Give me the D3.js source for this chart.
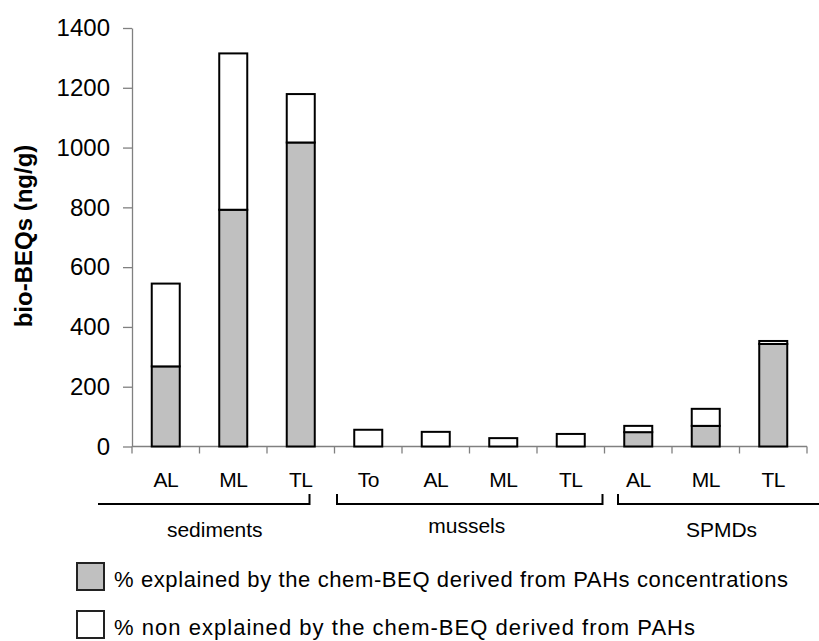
<!DOCTYPE html>
<html>
<head>
<meta charset="utf-8">
<script src="https://cdn.jsdelivr.net/npm/d3@7"></script>
<style>
  html, body { margin: 0; padding: 0; background: #fff; }
  svg { display: block; font-family: Arial, "Liberation Sans", sans-serif; }
</style>
</head>
<body>
<svg id="chart" width="819" height="641"></svg>
<script>
// ---- data ----
const categories = ["AL", "ML", "TL", "To", "AL", "ML", "TL", "AL", "ML", "TL"];
const groupNames = ["sediments", "mussels", "SPMDs"];
const groupSizes = [3, 4, 3];
const explained    = [268, 792, 1017, 0, 0, 0, 0, 48, 69, 343];
const nonExplained = [277, 523, 162, 56, 49, 28, 42, 21, 57, 10];
const yTicks = [0, 200, 400, 600, 800, 1000, 1200, 1400];
const yTitle = "bio-BEQs (ng/g)";
const legendLabels = [
  "% explained by the chem-BEQ derived from PAHs concentrations",
  "% non explained by the chem-BEQ derived from PAHs"
];
const seriesColors = ["#c0c0c0", "#ffffff"];

// ---- layout ----
const svg = d3.select("#chart");
const pLeft = 132, pRight = 807, pTop = 28, pBottom = 446.5;
const axisColor = "#808080";

const rows = categories.map((c, i) => ({ i, explained: explained[i], nonExplained: nonExplained[i] }));
const stacked = d3.stack().keys(["explained", "nonExplained"])(rows);

const x = d3.scaleBand().domain(d3.range(categories.length)).range([pLeft, pRight])
  .paddingInner(0.585).paddingOuter(0.2925);
const y = d3.scaleLinear().domain([0, 1400]).range([pBottom, pTop]);
const step = x.step();
const boundary = k => pLeft + k * step;

// y axis
const yAxis = d3.axisLeft(y).tickValues(yTicks).tickFormat(d3.format("d"))
  .tickSize(9).tickPadding(13).tickSizeOuter(0);
const gy = svg.append("g").attr("transform", `translate(${pLeft},0)`).call(yAxis)
  .attr("font-family", "Arial, 'Liberation Sans', sans-serif").attr("font-size", 24);
gy.select(".domain").attr("stroke", axisColor).attr("stroke-width", 1.3);
gy.selectAll(".tick line").attr("stroke", axisColor).attr("stroke-width", 1.3);
gy.selectAll(".tick text").attr("fill", "#000");
svg.append("line").attr("x1", pLeft).attr("x2", pLeft).attr("y1", pBottom).attr("y2", pBottom + 7)
  .attr("stroke", axisColor).attr("stroke-width", 1.3);

// x baseline + ticks at boundaries
svg.append("line").attr("x1", pLeft).attr("x2", pRight).attr("y1", pBottom).attr("y2", pBottom)
  .attr("stroke", axisColor).attr("stroke-width", 1.3);
svg.append("g").selectAll("line").data(d3.range(1, categories.length + 1)).join("line")
  .attr("x1", k => boundary(k)).attr("x2", k => boundary(k))
  .attr("y1", pBottom).attr("y2", pBottom + 7)
  .attr("stroke", axisColor).attr("stroke-width", 1.3);

// bars
svg.append("g").selectAll("g").data(stacked).join("g")
  .attr("fill", (d, si) => seriesColors[si])
  .selectAll("rect").data(d => d.filter(s => s[1] - s[0] > 0)).join("rect")
  .attr("x", s => x(s.data.i))
  .attr("width", x.bandwidth())
  .attr("y", s => y(s[1]))
  .attr("height", s => y(s[0]) - y(s[1]))
  .attr("stroke", "#000").attr("stroke-width", 2);

// category labels
svg.append("g").selectAll("text").data(categories).join("text")
  .attr("x", (c, i) => x(i) + x.bandwidth() / 2)
  .attr("y", 486.5)
  .attr("text-anchor", "middle")
  .attr("font-size", 21)
  .attr("letter-spacing", -0.5)
  .text(c => c);

// group brackets
let gStart = 0;
const groups = groupNames.map((name, g) => {
  const s = gStart; gStart += groupSizes[g];
  return { name, s, e: gStart };
});
const bracketPad = [[-34, -25], [2.5, -2], [13.5, 12]];
const bracketEnds = [[false, true], [true, true], [true, false]];
const labelShift = [11, -3, 3];
const labelBase = [537, 533, 537];
const bY = 504, bTop = 494;
groups.forEach((g, gi) => {
  const x0 = boundary(g.s) + bracketPad[gi][0];
  const x1 = boundary(g.e) + bracketPad[gi][1];
  let p = "";
  if (bracketEnds[gi][0]) p += `M${x0},${bTop}L${x0},${bY}L${x1},${bY}`;
  else p += `M${x0},${bY}L${x1},${bY}`;
  if (bracketEnds[gi][1]) p += `L${x1},${bTop}`;
  svg.append("path").attr("d", p).attr("fill", "none").attr("stroke", "#000").attr("stroke-width", 2);
  svg.append("text").attr("x", (x0 + x1) / 2 + labelShift[gi]).attr("y", labelBase[gi])
    .attr("text-anchor", "middle").attr("font-size", 21).text(g.name);
});

// y title
svg.append("text")
  .attr("transform", `translate(32,236) rotate(-90)`)
  .attr("text-anchor", "middle")
  .attr("font-size", 24).attr("font-weight", "bold")
  .text(yTitle);

// legend
const legY = [563, 611];
const legTextLen = [674, 581];
legendLabels.forEach((lab, i) => {
  svg.append("rect").attr("x", 77).attr("y", legY[i]).attr("width", 27).attr("height", 27)
    .attr("fill", seriesColors[i]).attr("stroke", "#222").attr("stroke-width", 2);
  svg.append("text").attr("x", 114).attr("y", legY[i] + 23.5)
    .attr("font-size", 22)
    .attr("textLength", legTextLen[i]).attr("lengthAdjust", "spacing")
    .text(lab);
});
</script>
</body>
</html>
